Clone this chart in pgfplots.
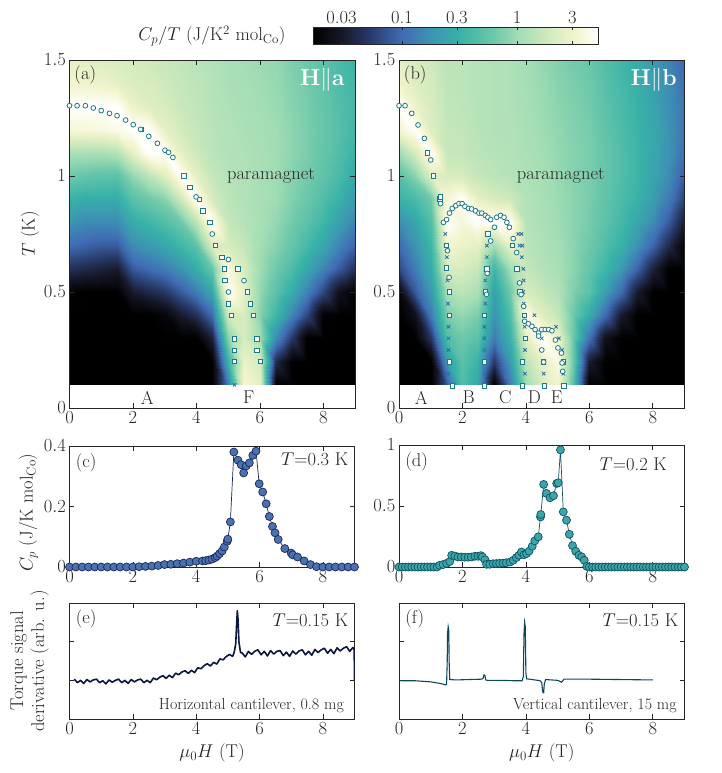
\RequirePackage{fix-cm}
\documentclass[border=0pt]{standalone}
\usepackage{pgfplots}
\pgfplotsset{compat=1.18}
\definecolor{axgray}{HTML}{262626}
\definecolor{mk}{RGB}{26,122,135}
\definecolor{mkx}{RGB}{42,110,168}
\definecolor{cfill}{RGB}{74,114,178}
\definecolor{cedge}{RGB}{25,40,85}
\definecolor{dfill}{RGB}{60,165,172}
\definecolor{dedge}{RGB}{14,82,96}
\definecolor{eline}{RGB}{10,22,64}
\definecolor{fline}{RGB}{12,72,90}
\newcommand{\fs}{\fontsize{18.5}{21}\selectfont}
\pgfplotsset{
  colormap={deep}{rgb255(0pt)=(0,0,0); rgb255(25pt)=(22,24,40); rgb255(47pt)=(38,55,100); rgb255(77pt)=(64,108,180); rgb255(102pt)=(60,148,178); rgb255(127pt)=(56,178,168); rgb255(157pt)=(110,200,170); rgb255(177pt)=(160,220,180); rgb255(207pt)=(215,236,190); rgb255(227pt)=(242,244,205); rgb255(247pt)=(255,255,252)},
  every axis/.append style={font=\fs, scale only axis, anchor=south west,
    axis line style={axgray, line width=0.6pt}, tick style={axgray, line width=0.6pt},
    major tick length=5pt, tick align=inside, ticklabel style={text=axgray},
    label style={text=axgray}},
  hm/.style={width=285.5pt, height=348pt, xmin=0, xmax=9, ymin=0, ymax=1.5,
    xtick={0,2,4,6,8}, ytick={0,0.5,1,1.5}, colormap name=deep,
    point meta min=-1.77, point meta max=0.70, axis on top},
  heat/.style={surf, shader=interp, mesh/rows=15, mesh/cols=19, mesh/ordering=y varies, point meta=explicit},
  mko/.style={only marks, mark=*, mark size=2.4pt, mark options={fill=white, draw=mk, line width=0.8pt}},
  mks/.style={only marks, mark=square*, mark size=2.2pt, mark options={fill=white, draw=mk, line width=0.8pt}},
  mkxx/.style={only marks, mark=x, mark size=2.4pt, mark options={draw=mkx, line width=0.8pt}},
}
\begin{document}
\begin{tikzpicture}[x=1pt,y=1pt]
\path[use as bounding box] (0,0) rectangle (722,773);

% ---------- colorbar
\begin{axis}[at={(313pt,729pt)}, width=285pt, height=17pt, xmin=-1.77, xmax=0.70, ymin=0, ymax=1,
  ytick=\empty, xtick={-1.5229,-1,-0.5229,0,0.4771}, xticklabels={0.03,0.1,0.3,1,3},
  xticklabel pos=upper, major tick length=3pt, colormap name=deep, point meta min=-1.77, point meta max=0.70, axis on top]
\addplot[surf, shader=interp, mesh/cols=11, point meta=explicit] coordinates {
(-1.77,0)[-1.77] (-1.52,0)[-1.52] (-1.30,0)[-1.30] (-1.00,0)[-1.00] (-0.75,0)[-0.75] (-0.50,0)[-0.50] (-0.20,0)[-0.20] (0,0)[0] (0.30,0)[0.30] (0.50,0)[0.50] (0.70,0)[0.70]
(-1.77,1)[-1.77] (-1.52,1)[-1.52] (-1.30,1)[-1.30] (-1.00,1)[-1.00] (-0.75,1)[-0.75] (-0.50,1)[-0.50] (-0.20,1)[-0.20] (0,1)[0] (0.30,1)[0.30] (0.50,1)[0.50] (0.70,1)[0.70]
};
\end{axis}
\node[text=axgray, font=\fs] at (212pt,737pt) {$C_p/T$ (J/K$^2$ mol$_{\mathrm{Co}}$)};

% ---------- (a)
\begin{axis}[hm, at={(69.5pt,365pt)}, ylabel={$T$ (K)}, ylabel style={at={(axis description cs:-0.138,0.5)}, anchor=center}]
\addplot[heat] coordinates {
(0,0.1)[-2] (0,0.2)[-2] (0,0.3)[-2] (0,0.4)[-2] (0,0.5)[-1.75] (0,0.6)[-1.35] (0,0.7)[-1] (0,0.8)[-0.75] (0,0.9)[-0.5] (0,1)[-0.2] (0,1.1)[0.05] (0,1.2)[0.55] (0,1.3)[0.85] (0,1.4)[0.5] (0,1.5)[0.4]
(0.5,0.1)[-2] (0.5,0.2)[-2] (0.5,0.3)[-2] (0.5,0.4)[-2] (0.5,0.5)[-1.8] (0.5,0.6)[-1.4] (0.5,0.7)[-1.05] (0.5,0.8)[-0.8] (0.5,0.9)[-0.55] (0.5,1)[-0.25] (0.5,1.1)[0.05] (0.5,1.2)[0.55] (0.5,1.3)[0.85] (0.5,1.4)[0.5] (0.5,1.5)[0.38]
(1,0.1)[-2] (1,0.2)[-2] (1,0.3)[-2] (1,0.4)[-2] (1,0.5)[-1.85] (1,0.6)[-1.45] (1,0.7)[-1.1] (1,0.8)[-0.8] (1,0.9)[-0.55] (1,1)[-0.28] (1,1.1)[0.05] (1,1.2)[0.57] (1,1.3)[0.82] (1,1.4)[0.45] (1,1.5)[0.35]
(1.5,0.1)[-2] (1.5,0.2)[-2] (1.5,0.3)[-2] (1.5,0.4)[-2] (1.5,0.5)[-1.9] (1.5,0.6)[-1.5] (1.5,0.7)[-1.1] (1.5,0.8)[-0.8] (1.5,0.9)[-0.55] (1.5,1)[-0.3] (1.5,1.1)[0.1] (1.5,1.2)[0.62] (1.5,1.3)[0.78] (1.5,1.4)[0.4] (1.5,1.5)[0.32]
(2,0.1)[-2] (2,0.2)[-2] (2,0.3)[-2] (2,0.4)[-1.9] (2,0.5)[-1.5] (2,0.6)[-1.1] (2,0.7)[-0.8] (2,0.8)[-0.55] (2,0.9)[-0.3] (2,1)[-0.05] (2,1.1)[0.4] (2,1.2)[0.85] (2,1.3)[0.45] (2,1.4)[0.32] (2,1.5)[0.28]
(2.5,0.1)[-2] (2.5,0.2)[-2] (2.5,0.3)[-2] (2.5,0.4)[-1.8] (2.5,0.5)[-1.4] (2.5,0.6)[-1] (2.5,0.7)[-0.7] (2.5,0.8)[-0.45] (2.5,0.9)[-0.2] (2.5,1)[0.15] (2.5,1.1)[0.75] (2.5,1.2)[0.7] (2.5,1.3)[0.35] (2.5,1.4)[0.3] (2.5,1.5)[0.25]
(3,0.1)[-2] (3,0.2)[-2] (3,0.3)[-2] (3,0.4)[-1.7] (3,0.5)[-1.3] (3,0.6)[-0.9] (3,0.7)[-0.6] (3,0.8)[-0.35] (3,0.9)[-0.1] (3,1)[0.35] (3,1.1)[0.85] (3,1.2)[0.4] (3,1.3)[0.3] (3,1.4)[0.25] (3,1.5)[0.22]
(3.5,0.1)[-2] (3.5,0.2)[-2] (3.5,0.3)[-1.9] (3.5,0.4)[-1.5] (3.5,0.5)[-1.1] (3.5,0.6)[-0.75] (3.5,0.7)[-0.45] (3.5,0.8)[-0.2] (3.5,0.9)[0.25] (3.5,1)[0.85] (3.5,1.1)[0.4] (3.5,1.2)[0.28] (3.5,1.3)[0.22] (3.5,1.4)[0.2] (3.5,1.5)[0.18]
(4,0.1)[-2] (4,0.2)[-2] (4,0.3)[-1.8] (4,0.4)[-1.35] (4,0.5)[-0.9] (4,0.6)[-0.55] (4,0.7)[-0.3] (4,0.8)[0.15] (4,0.9)[0.85] (4,1)[0.4] (4,1.1)[0.25] (4,1.2)[0.2] (4,1.3)[0.18] (4,1.4)[0.16] (4,1.5)[0.15]
(4.5,0.1)[-2] (4.5,0.2)[-1.9] (4.5,0.3)[-1.45] (4.5,0.4)[-1] (4.5,0.5)[-0.6] (4.5,0.6)[-0.25] (4.5,0.7)[0.3] (4.5,0.8)[0.8] (4.5,0.9)[0.3] (4.5,1)[0.2] (4.5,1.1)[0.15] (4.5,1.2)[0.13] (4.5,1.3)[0.12] (4.5,1.4)[0.12] (4.5,1.5)[0.1]
(5,0.1)[-0.9] (5,0.2)[-0.5] (5,0.3)[-0.1] (5,0.4)[0.25] (5,0.5)[0.7] (5,0.6)[0.6] (5,0.7)[0.3] (5,0.8)[0.2] (5,0.9)[0.15] (5,1)[0.12] (5,1.1)[0.1] (5,1.2)[0.1] (5,1.3)[0.08] (5,1.4)[0.06] (5,1.5)[0.05]
(5.5,0.1)[0.55] (5.5,0.2)[0.45] (5.5,0.3)[0.3] (5.5,0.4)[0.3] (5.5,0.5)[0.4] (5.5,0.6)[0.3] (5.5,0.7)[0.2] (5.5,0.8)[0.12] (5.5,0.9)[0.1] (5.5,1)[0.1] (5.5,1.1)[0.08] (5.5,1.2)[0.06] (5.5,1.3)[0.05] (5.5,1.4)[0.04] (5.5,1.5)[0.02]
(6,0.1)[0.4] (6,0.2)[0.3] (6,0.3)[0] (6,0.4)[-0.1] (6,0.5)[-0.05] (6,0.6)[0] (6,0.7)[0.02] (6,0.8)[0.05] (6,0.9)[0.05] (6,1)[0.05] (6,1.1)[0.05] (6,1.2)[0.04] (6,1.3)[0.02] (6,1.4)[0] (6,1.5)[-0.02]
(6.5,0.1)[-2] (6.5,0.2)[-1.4] (6.5,0.3)[-0.8] (6.5,0.4)[-0.45] (6.5,0.5)[-0.3] (6.5,0.6)[-0.2] (6.5,0.7)[-0.1] (6.5,0.8)[-0.05] (6.5,0.9)[0] (6.5,1)[0] (6.5,1.1)[0] (6.5,1.2)[0] (6.5,1.3)[-0.02] (6.5,1.4)[-0.04] (6.5,1.5)[-0.05]
(7,0.1)[-2] (7,0.2)[-1.9] (7,0.3)[-1.3] (7,0.4)[-0.85] (7,0.5)[-0.55] (7,0.6)[-0.38] (7,0.7)[-0.25] (7,0.8)[-0.18] (7,0.9)[-0.12] (7,1)[-0.1] (7,1.1)[-0.08] (7,1.2)[-0.08] (7,1.3)[-0.1] (7,1.4)[-0.12] (7,1.5)[-0.14]
(7.5,0.1)[-2] (7.5,0.2)[-2] (7.5,0.3)[-1.8] (7.5,0.4)[-1.2] (7.5,0.5)[-0.85] (7.5,0.6)[-0.6] (7.5,0.7)[-0.42] (7.5,0.8)[-0.3] (7.5,0.9)[-0.22] (7.5,1)[-0.18] (7.5,1.1)[-0.15] (7.5,1.2)[-0.15] (7.5,1.3)[-0.16] (7.5,1.4)[-0.18] (7.5,1.5)[-0.2]
(8,0.1)[-2] (8,0.2)[-2] (8,0.3)[-2] (8,0.4)[-1.75] (8,0.5)[-1.2] (8,0.6)[-0.85] (8,0.7)[-0.6] (8,0.8)[-0.45] (8,0.9)[-0.35] (8,1)[-0.28] (8,1.1)[-0.25] (8,1.2)[-0.24] (8,1.3)[-0.25] (8,1.4)[-0.27] (8,1.5)[-0.3]
(8.5,0.1)[-2] (8.5,0.2)[-2] (8.5,0.3)[-2] (8.5,0.4)[-2] (8.5,0.5)[-1.6] (8.5,0.6)[-1.1] (8.5,0.7)[-0.85] (8.5,0.8)[-0.65] (8.5,0.9)[-0.5] (8.5,1)[-0.4] (8.5,1.1)[-0.35] (8.5,1.2)[-0.33] (8.5,1.3)[-0.35] (8.5,1.4)[-0.37] (8.5,1.5)[-0.4]
(9,0.1)[-2] (9,0.2)[-2] (9,0.3)[-2] (9,0.4)[-2] (9,0.5)[-1.9] (9,0.6)[-1.35] (9,0.7)[-1.05] (9,0.8)[-0.85] (9,0.9)[-0.7] (9,1)[-0.58] (9,1.1)[-0.5] (9,1.2)[-0.45] (9,1.3)[-0.43] (9,1.4)[-0.45] (9,1.5)[-0.48]
};
\addplot[mks] coordinates {(2.26,1.20) (3.6,1.0) (3.8,0.951) (4.09,0.90) (4.21,0.85) (4.42,0.80) (4.6,0.70) (4.81,0.65) (4.89,0.60) (4.9,0.549) (5.01,0.448) (5.1,0.40) (5.19,0.297) (5.19,0.249) (5.2,0.20) (5.31,0.60) (5.61,0.50) (5.71,0.448) (5.8,0.40) (5.91,0.297) (5.91,0.249) (6.01,0.20)};
\addplot[mko] coordinates {(0,1.303) (0.24,1.303) (0.5,1.303) (0.75,1.293) (1.0,1.282) (1.26,1.270) (1.5,1.260) (1.77,1.241) (2.01,1.221) (2.24,1.201) (2.5,1.171) (2.77,1.141) (3.01,1.111) (3.12,1.102) (3.26,1.080) (3.99,0.91) (4.5,0.75) (5.01,0.64) (5.01,0.50) (5.5,0.549)};
\addplot[mkxx] coordinates {(5.2,0.10)};
\node[text=axgray] at (axis cs:6.35,1.0) {paramagnet};
\node[text=white, font=\fontsize{23}{26}\selectfont, anchor=north east] at (rel axis cs:0.975,0.985) {$\mathbf{H}\|\mathbf{a}$};
\node[text=axgray, anchor=north west] at (rel axis cs:0.005,0.995) {(a)};
\node[text=axgray] at (axis cs:2.45,0.045) {A};
\node[text=axgray] at (axis cs:5.65,0.045) {F};
\end{axis}

% ---------- (b)
\begin{axis}[hm, at={(399pt,365pt)}]
\addplot[heat] coordinates {
(0,0.1)[-2] (0,0.2)[-2] (0,0.3)[-2] (0,0.4)[-2] (0,0.5)[-1.7] (0,0.6)[-1.2] (0,0.7)[-1] (0,0.8)[-0.8] (0,0.9)[-0.5] (0,1)[-0.3] (0,1.1)[0] (0,1.2)[0.5] (0,1.3)[0.85] (0,1.4)[0.5] (0,1.5)[0.4]
(0.5,0.1)[-2] (0.5,0.2)[-2] (0.5,0.3)[-2] (0.5,0.4)[-1.6] (0.5,0.5)[-1.1] (0.5,0.6)[-0.9] (0.5,0.7)[-0.75] (0.5,0.8)[-0.6] (0.5,0.9)[-0.4] (0.5,1)[-0.1] (0.5,1.1)[0.3] (0.5,1.2)[0.8] (0.5,1.3)[0.45] (0.5,1.4)[0.35] (0.5,1.5)[0.3]
(1,0.1)[-2] (1,0.2)[-2] (1,0.3)[-1.3] (1,0.4)[-0.9] (1,0.5)[-0.7] (1,0.6)[-0.55] (1,0.7)[-0.45] (1,0.8)[-0.35] (1,0.9)[-0.2] (1,1)[0.35] (1,1.1)[0.75] (1,1.2)[0.35] (1,1.3)[0.3] (1,1.4)[0.28] (1,1.5)[0.25]
(1.5,0.1)[-1.1] (1.5,0.2)[-0.7] (1.5,0.3)[-0.35] (1.5,0.4)[-0.15] (1.5,0.5)[0.05] (1.5,0.6)[0.3] (1.5,0.7)[0.5] (1.5,0.8)[0.75] (1.5,0.9)[0.55] (1.5,1)[0.3] (1.5,1.1)[0.2] (1.5,1.2)[0.2] (1.5,1.3)[0.18] (1.5,1.4)[0.16] (1.5,1.5)[0.15]
(2,0.1)[-0.35] (2,0.2)[-0.3] (2,0.3)[-0.2] (2,0.4)[-0.05] (2,0.5)[0.15] (2,0.6)[0.3] (2,0.7)[0.45] (2,0.8)[0.55] (2,0.9)[0.75] (2,1)[0.3] (2,1.1)[0.2] (2,1.2)[0.18] (2,1.3)[0.16] (2,1.4)[0.15] (2,1.5)[0.15]
(2.5,0.1)[-0.6] (2.5,0.2)[-0.5] (2.5,0.3)[-0.3] (2.5,0.4)[-0.15] (2.5,0.5)[0.05] (2.5,0.6)[0.2] (2.5,0.7)[0.4] (2.5,0.8)[0.75] (2.5,0.9)[0.4] (2.5,1)[0.2] (2.5,1.1)[0.15] (2.5,1.2)[0.13] (2.5,1.3)[0.12] (2.5,1.4)[0.12] (2.5,1.5)[0.12]
(3,0.1)[-1.8] (3,0.2)[-1.3] (3,0.3)[-0.9] (3,0.4)[-0.75] (3,0.5)[-0.65] (3,0.6)[-0.45] (3,0.7)[0] (3,0.8)[0.75] (3,0.9)[0.3] (3,1)[0.15] (3,1.1)[0.12] (3,1.2)[0.1] (3,1.3)[0.1] (3,1.4)[0.1] (3,1.5)[0.1]
(3.5,0.1)[-0.9] (3.5,0.2)[-0.7] (3.5,0.3)[-0.5] (3.5,0.4)[-0.35] (3.5,0.5)[-0.2] (3.5,0.6)[0] (3.5,0.7)[0.4] (3.5,0.8)[0.7] (3.5,0.9)[0.25] (3.5,1)[0.12] (3.5,1.1)[0.1] (3.5,1.2)[0.1] (3.5,1.3)[0.08] (3.5,1.4)[0.08] (3.5,1.5)[0.08]
(4,0.1)[0] (4,0.2)[0.15] (4,0.3)[0.4] (4,0.4)[0.65] (4,0.5)[0.3] (4,0.6)[0.2] (4,0.7)[0.15] (4,0.8)[0.12] (4,0.9)[0.1] (4,1)[0.08] (4,1.1)[0.06] (4,1.2)[0.05] (4,1.3)[0.04] (4,1.4)[0.03] (4,1.5)[0.02]
(4.5,0.1)[0.3] (4.5,0.2)[0.4] (4.5,0.3)[0.7] (4.5,0.4)[0.35] (4.5,0.5)[0.2] (4.5,0.6)[0.1] (4.5,0.7)[0.08] (4.5,0.8)[0.06] (4.5,0.9)[0.05] (4.5,1)[0.04] (4.5,1.1)[0.02] (4.5,1.2)[0] (4.5,1.3)[-0.02] (4.5,1.4)[-0.03] (4.5,1.5)[-0.05]
(5,0.1)[0.5] (5,0.2)[0.6] (5,0.3)[0.45] (5,0.4)[0.2] (5,0.5)[0.1] (5,0.6)[0.05] (5,0.7)[0.02] (5,0.8)[0] (5,0.9)[-0.02] (5,1)[-0.03] (5,1.1)[-0.05] (5,1.2)[-0.06] (5,1.3)[-0.08] (5,1.4)[-0.1] (5,1.5)[-0.12]
(5.5,0.1)[-0.3] (5.5,0.2)[-0.2] (5.5,0.3)[-0.2] (5.5,0.4)[-0.2] (5.5,0.5)[-0.12] (5.5,0.6)[-0.08] (5.5,0.7)[-0.08] (5.5,0.8)[-0.08] (5.5,0.9)[-0.08] (5.5,1)[-0.1] (5.5,1.1)[-0.1] (5.5,1.2)[-0.12] (5.5,1.3)[-0.13] (5.5,1.4)[-0.15] (5.5,1.5)[-0.18]
(6,0.1)[-2] (6,0.2)[-1.5] (6,0.3)[-0.95] (6,0.4)[-0.55] (6,0.5)[-0.3] (6,0.6)[-0.25] (6,0.7)[-0.2] (6,0.8)[-0.17] (6,0.9)[-0.15] (6,1)[-0.15] (6,1.1)[-0.15] (6,1.2)[-0.16] (6,1.3)[-0.18] (6,1.4)[-0.2] (6,1.5)[-0.22]
(6.5,0.1)[-2] (6.5,0.2)[-2] (6.5,0.3)[-1.6] (6.5,0.4)[-1] (6.5,0.5)[-0.65] (6.5,0.6)[-0.45] (6.5,0.7)[-0.35] (6.5,0.8)[-0.3] (6.5,0.9)[-0.27] (6.5,1)[-0.25] (6.5,1.1)[-0.25] (6.5,1.2)[-0.27] (6.5,1.3)[-0.3] (6.5,1.4)[-0.32] (6.5,1.5)[-0.35]
(7,0.1)[-2] (7,0.2)[-2] (7,0.3)[-2] (7,0.4)[-1.5] (7,0.5)[-1] (7,0.6)[-0.7] (7,0.7)[-0.5] (7,0.8)[-0.42] (7,0.9)[-0.38] (7,1)[-0.35] (7,1.1)[-0.35] (7,1.2)[-0.37] (7,1.3)[-0.4] (7,1.4)[-0.42] (7,1.5)[-0.45]
(7.5,0.1)[-2] (7.5,0.2)[-2] (7.5,0.3)[-2] (7.5,0.4)[-2] (7.5,0.5)[-1.5] (7.5,0.6)[-1.05] (7.5,0.7)[-0.75] (7.5,0.8)[-0.6] (7.5,0.9)[-0.5] (7.5,1)[-0.47] (7.5,1.1)[-0.47] (7.5,1.2)[-0.48] (7.5,1.3)[-0.5] (7.5,1.4)[-0.52] (7.5,1.5)[-0.55]
(8,0.1)[-2] (8,0.2)[-2] (8,0.3)[-2] (8,0.4)[-2] (8,0.5)[-1.95] (8,0.6)[-1.45] (8,0.7)[-1.05] (8,0.8)[-0.8] (8,0.9)[-0.68] (8,1)[-0.62] (8,1.1)[-0.6] (8,1.2)[-0.6] (8,1.3)[-0.62] (8,1.4)[-0.65] (8,1.5)[-0.7]
(8.5,0.1)[-2] (8.5,0.2)[-2] (8.5,0.3)[-2] (8.5,0.4)[-2] (8.5,0.5)[-2] (8.5,0.6)[-1.85] (8.5,0.7)[-1.4] (8.5,0.8)[-1.1] (8.5,0.9)[-0.9] (8.5,1)[-0.8] (8.5,1.1)[-0.75] (8.5,1.2)[-0.75] (8.5,1.3)[-0.78] (8.5,1.4)[-0.8] (8.5,1.5)[-0.85]
(9,0.1)[-2] (9,0.2)[-2] (9,0.3)[-2] (9,0.4)[-2] (9,0.5)[-2] (9,0.6)[-2] (9,0.7)[-1.8] (9,0.8)[-1.5] (9,0.9)[-1.25] (9,1)[-1.1] (9,1.1)[-1] (9,1.2)[-0.95] (9,1.3)[-0.95] (9,1.4)[-1] (9,1.5)[-1.05]
};
\addplot[mkxx] coordinates {(1.46,0.75) (1.47,0.70) (1.51,0.65) (1.51,0.60) (1.53,0.55) (1.54,0.45) (1.56,0.35) (1.56,0.30) (1.56,0.25) (1.54,0.148) (2.81,0.75) (2.77,0.70) (2.77,0.65) (2.73,0.60) (2.72,0.55) (2.72,0.45) (2.69,0.35) (2.69,0.30) (2.69,0.25) (2.72,0.148) (3.76,0.75) (3.86,0.75) (3.8,0.70) (3.89,0.70) (3.87,0.65) (3.92,0.60) (3.93,0.55) (3.91,0.50) (3.93,0.45) (3.96,0.35) (3.97,0.25) (3.97,0.148) (4.27,0.40) (4.5,0.30) (4.56,0.148) (4.95,0.35) (5.04,0.30) (5.14,0.25) (5.18,0.148)};
\addplot[mks] coordinates {(0.9,1.10) (1.08,1.0) (1.29,0.902) (1.31,0.91) (1.5,0.70) (1.5,0.603) (1.59,0.50) (1.59,0.40) (1.59,0.198) (1.68,0.096) (2.8,0.75) (2.77,0.60) (2.72,0.50) (2.69,0.40) (2.69,0.198) (2.69,0.096) (3.58,0.70) (3.72,0.60) (3.81,0.50) (3.96,0.40) (3.98,0.30) (3.89,0.198) (3.89,0.096) (4.56,0.198) (4.59,0.096) (5.19,0.198) (5.2,0.096)};
\addplot[mko] coordinates {(0,1.303) (0.19,1.303) (0.4,1.27) (0.6,1.22) (0.8,1.162) (1.0,1.069) (1.31,0.881) (1.4,0.80) (1.5,0.812) (1.59,0.84) (1.68,0.86) (1.79,0.872) (1.89,0.881) (1.99,0.881) (2.08,0.869) (2.19,0.86) (2.29,0.858) (2.41,0.85) (2.52,0.84) (2.61,0.84) (2.72,0.83) (2.8,0.822) (2.89,0.812) (3.01,0.779) (3.08,0.822) (3.2,0.83) (3.31,0.822) (3.4,0.80) (3.48,0.779) (3.6,0.73) (3.71,0.67) (3.8,0.539) (3.85,0.489) (3.93,0.438) (3.96,0.374) (4.08,0.363) (4.19,0.352) (4.29,0.338) (4.4,0.323) (4.5,0.338) (4.61,0.338) (4.72,0.338) (4.82,0.333) (4.93,0.293) (5.01,0.259) (5.12,0.237) (5.14,0.194) (5.16,0.158) (4.4,0.31) (4.5,0.25) (4.56,0.198) (1.53,0.678) (1.58,0.563) (2.89,0.72) (2.78,0.58) (2.76,0.49)};
\node[text=axgray] at (axis cs:5.1,1.0) {paramagnet};
\node[text=white, font=\fontsize{23}{26}\selectfont, anchor=north east] at (rel axis cs:0.985,0.985) {$\mathbf{H}\|\mathbf{b}$};
\node[text=axgray, anchor=north west] at (rel axis cs:0.005,0.995) {(b)};
\node[text=axgray] at (axis cs:0.7,0.045) {A};
\node[text=axgray] at (axis cs:2.2,0.045) {B};
\node[text=axgray] at (axis cs:3.35,0.045) {C};
\node[text=axgray] at (axis cs:4.27,0.045) {D};
\node[text=axgray] at (axis cs:4.97,0.045) {E};
\end{axis}

% ---------- (c)
\begin{axis}[at={(69.5pt,206pt)}, width=285pt, height=121pt, xmin=0, xmax=9, ymin=0, ymax=0.4,
  xtick={0,2,4,6,8}, ytick={0,0.2,0.4}, clip=false,
  ylabel={$C_p$ (J/K mol$_{\mathrm{Co}}$)}, ylabel style={at={(axis description cs:-0.144,0.45)}, anchor=center}]
\addplot[color=cedge, line width=0.7pt, mark=*, mark size=4pt, mark options={fill=cfill, draw=cedge, line width=0.7pt}] coordinates {
(0,0) (0.2,0) (0.4,0) (0.6,0) (0.8,0) (1.0,0) (1.2,0) (1.4,0) (1.6,0) (1.8,0) (2.0,0) (2.2,0.001) (2.4,0.002) (2.6,0.003) (2.8,0.005) (3.0,0.008) (3.2,0.009) (3.4,0.011) (3.6,0.013) (3.8,0.016) (4.0,0.019) (4.2,0.02) (4.3,0.021) (4.4,0.023) (4.5,0.026) (4.6,0.031) (4.66,0.036) (4.74,0.044) (4.82,0.053) (4.89,0.066) (4.98,0.085) (5.0,0.092) (5.08,0.149) (5.19,0.38) (5.32,0.353) (5.42,0.338) (5.5,0.311) (5.58,0.334) (5.68,0.344) (5.79,0.369) (5.89,0.383) (5.99,0.275) (6.1,0.248) (6.21,0.209) (6.31,0.167) (6.41,0.134) (6.49,0.113) (6.59,0.091) (6.8,0.061) (7.0,0.046) (7.05,0.04) (7.2,0.033) (7.41,0.02) (7.61,0.008) (7.8,0.001) (8.0,0) (8.2,0) (8.4,0) (8.6,0) (8.8,0) (9.0,0)};
\node[text=axgray, anchor=north west] at (rel axis cs:0.01,0.97) {(c)};
\node[text=axgray, anchor=north east] at (rel axis cs:0.99,0.97) {$T$=0.3 K};
\end{axis}

% ---------- (d)
\begin{axis}[at={(399pt,206pt)}, width=285.5pt, height=122pt, xmin=0, xmax=9, ymin=0, ymax=1,
  xtick={0,2,4,6,8}, ytick={0,0.5,1}, clip=false]
\addplot[color=dedge, line width=0.7pt, mark=*, mark size=4pt, mark options={fill=dfill, draw=dedge, line width=0.7pt}] coordinates {
(0,0) (0.1,0) (0.2,0) (0.3,0) (0.4,0) (0.5,0) (0.6,0) (0.7,0) (0.8,0) (0.9,0) (1.0,0) (1.1,0) (1.2,0) (1.28,0.014) (1.39,0.02) (1.5,0.03) (1.6,0.045) (1.66,0.096) (1.76,0.09) (1.86,0.082) (1.96,0.082) (2.07,0.08) (2.18,0.08) (2.28,0.082) (2.39,0.088) (2.49,0.088) (2.58,0.093) (2.63,0.082) (2.71,0.06) (2.76,0.022) (2.86,0.022) (2.97,0.027) (3.07,0.028) (3.17,0.03) (3.28,0.032) (3.38,0.035) (3.5,0.04) (3.6,0.055) (3.7,0.077) (3.78,0.096) (3.86,0.123) (3.94,0.1) (4.02,0.11) (4.1,0.13) (4.2,0.17) (4.28,0.214) (4.39,0.247) (4.46,0.41) (4.47,0.43) (4.56,0.677) (4.65,0.603) (4.76,0.567) (4.87,0.584) (4.97,0.685) (5.02,0.69) (5.09,0.96) (5.18,0.452) (5.28,0.384) (5.37,0.268) (5.47,0.175) (5.57,0.129) (5.67,0.096) (5.76,0.082) (5.84,0.055) (5.92,0.005) (6.0,0) (6.1,0) (6.2,0) (6.3,0) (6.4,0) (6.5,0) (6.6,0) (6.7,0) (6.8,0) (6.9,0) (7.0,0) (7.1,0) (7.2,0) (7.3,0) (7.4,0) (7.5,0) (7.6,0) (7.7,0) (7.8,0) (7.9,0) (8.0,0) (8.1,0) (8.2,0) (8.3,0) (8.4,0) (8.5,0) (8.6,0) (8.7,0) (8.8,0) (8.9,0) (9.0,0)};
\node[text=axgray, anchor=north west] at (rel axis cs:0.01,0.97) {(d)};
\node[text=axgray, anchor=north east] at (rel axis cs:0.95,0.92) {$T$=0.2 K};
\end{axis}

% ---------- (e)
\begin{axis}[at={(69.5pt,54pt)}, width=285pt, height=116pt, xmin=0, xmax=9, ymin=0, ymax=3,
  xtick={0,2,4,6,8}, ytick={1,2}, yticklabels={},
  xlabel={$\mu_0 H$ (T)}, xlabel style={at={(axis description cs:0.5,-0.293)}, anchor=center},
  ylabel={Torque signal\\derivative (arb. u.)}, ylabel style={align=center, font=\fontsize{18.5}{21}\selectfont, at={(axis description cs:-0.14,0.5)}, anchor=center}]
\addplot[color=eline, line width=1.6pt, line join=round] coordinates {
(0.15,1.03) (0.25,0.94) (0.35,1.00) (0.45,0.92) (0.55,1.02) (0.65,0.96) (0.75,1.01) (0.85,1.03) (0.95,0.94) (1.05,0.99) (1.15,0.91) (1.25,1.01) (1.35,0.95) (1.45,1.00) (1.55,1.03) (1.65,0.94) (1.75,1.00) (1.85,0.92) (1.95,1.02) (2.05,0.96) (2.15,1.01) (2.25,1.03) (2.35,0.94) (2.45,1.00) (2.55,0.94) (2.65,1.06) (2.75,1.015) (2.85,1.08) (2.95,1.12) (3.05,1.05) (3.15,1.13) (3.25,1.07) (3.35,1.185) (3.45,1.145) (3.55,1.215) (3.65,1.25) (3.75,1.18) (3.85,1.26) (3.95,1.20) (4.05,1.325) (4.15,1.30) (4.25,1.38) (4.35,1.43) (4.45,1.37) (4.55,1.465) (4.65,1.42) (4.75,1.555) (4.85,1.53) (4.95,1.615) (5.05,1.67) (5.15,1.62) (5.2,1.72) (5.25,1.95) (5.28,2.5) (5.30,2.80) (5.32,2.6) (5.35,2.0) (5.40,1.72) (5.45,1.71) (5.55,1.606) (5.65,1.75) (5.75,1.67) (5.85,1.75) (5.95,1.79) (6.05,1.66) (6.15,1.75) (6.25,1.63) (6.35,1.77) (6.45,1.68) (6.55,1.75) (6.65,1.77) (6.75,1.64) (6.85,1.73) (6.95,1.62) (7.05,1.76) (7.15,1.68) (7.25,1.76) (7.35,1.79) (7.45,1.66) (7.55,1.75) (7.65,1.65) (7.75,1.80) (7.85,1.72) (7.95,1.79) (8.05,1.83) (8.15,1.70) (8.25,1.80) (8.35,1.69) (8.45,1.84) (8.55,1.76) (8.65,1.83) (8.75,1.87) (8.85,1.75) (8.95,1.85) (8.99,1.80) (9.0,1.0)};
\node[text=axgray, anchor=north west] at (rel axis cs:0.01,0.97) {(e)};
\node[text=axgray, anchor=north east] at (rel axis cs:0.99,0.94) {$T$=0.15 K};
\node[text=axgray, anchor=south east, font=\fontsize{16}{18}\selectfont] at (rel axis cs:0.975,0.02) {Horizontal cantilever, 0.8 mg};
\end{axis}

% ---------- (f)
\begin{axis}[at={(399pt,54pt)}, width=285.5pt, height=116pt, xmin=0, xmax=9, ymin=0, ymax=3,
  xtick={0,2,4,6,8}, ytick={1,2}, yticklabels={},
  xlabel={$\mu_0 H$ (T)}, xlabel style={at={(axis description cs:0.5,-0.293)}, anchor=center}]
\addplot[color=fline, line width=1.1pt] coordinates {
(0.05,0.99) (0.5,0.99) (1.0,0.96) (1.3,0.92) (1.48,0.88) (1.50,0.90) (1.52,1.5) (1.53,2.2) (1.55,2.39) (1.57,2.3) (1.58,1.5) (1.60,1.02) (1.8,1.01) (2.2,1.02) (2.6,1.03) (2.65,1.05) (2.68,1.14) (2.71,1.13) (2.73,1.01) (2.8,1.0) (3.2,1.0) (3.6,0.99) (3.88,0.99) (3.92,1.1) (3.94,2.2) (3.96,2.5) (3.98,2.4) (4.0,1.2) (4.02,1.04) (4.2,1.02) (4.45,0.99) (4.5,0.94) (4.53,0.70) (4.56,0.68) (4.58,0.9) (4.62,1.02) (5.0,1.0) (5.08,0.97) (5.12,0.95) (5.2,1.03) (6,1.03) (7,1.02) (8,1.01)};
\node[text=axgray, anchor=north west] at (rel axis cs:0.01,0.97) {(f)};
\node[text=axgray, anchor=north east] at (rel axis cs:0.99,0.94) {$T$=0.15 K};
\node[text=axgray, anchor=south east, font=\fontsize{16}{18}\selectfont] at (rel axis cs:0.985,0.02) {Vertical cantilever, 15 mg};
\end{axis}
\end{tikzpicture}
\end{document}
